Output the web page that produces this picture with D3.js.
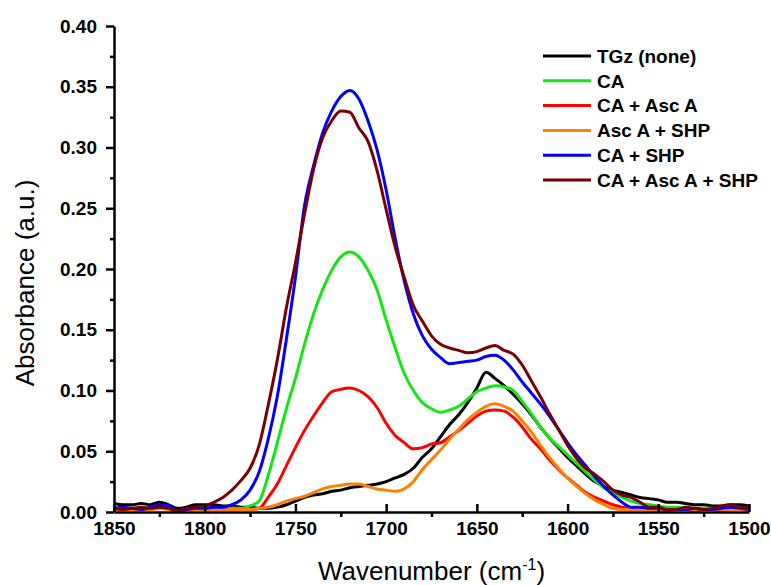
<!DOCTYPE html>
<html>
<head>
<meta charset="utf-8">
<script src="https://cdn.jsdelivr.net/npm/d3@7"></script>
<style>
  body { margin: 0; background: #fff; }
  svg { display: block; }
  .tick text { font-family: "Liberation Sans", Arial, sans-serif; font-weight: bold; font-size: 19px; fill: #000; }
</style>
</head>
<body>
<svg id="chart" width="771" height="585"></svg>
<script>
// ---- data ----
const wavenumbers = d3.range(1850, 1499, -5);

const tgz = [0.007,0.006,0.006,0.007,0.006,0.008,0.006,0.003,0.004,0.006,0.006,0.006,0.005,0.005,0.004,0.004,0.003,0.003,0.004,0.006,0.009,0.012,0.014,0.015,0.017,0.018,0.020,0.021,0.022,0.023,0.025,0.028,0.031,0.036,0.045,0.052,0.062,0.072,0.080,0.090,0.102,0.115,0.110,0.104,0.097,0.089,0.080,0.070,0.061,0.053,0.045,0.038,0.031,0.025,0.021,0.018,0.016,0.014,0.012,0.011,0.010,0.008,0.008,0.007,0.006,0.006,0.005,0.005,0.006,0.006,0.005];

const ca = [0.003,0.002,0.003,0.003,0.004,0.005,0.003,0.001,0.002,0.003,0.003,0.003,0.003,0.003,0.003,0.005,0.009,0.030,0.057,0.085,0.110,0.138,0.163,0.183,0.199,0.210,0.214,0.210,0.199,0.183,0.158,0.135,0.114,0.100,0.090,0.085,0.082,0.084,0.087,0.093,0.099,0.102,0.104,0.103,0.100,0.091,0.081,0.070,0.061,0.054,0.047,0.040,0.033,0.026,0.020,0.016,0.012,0.009,0.007,0.006,0.005,0.004,0.004,0.003,0.003,0.003,0.003,0.002,0.003,0.002,0.002];

const caAsc = [0.002,0.002,0.003,0.002,0.003,0.004,0.003,0.001,0.002,0.002,0.002,0.002,0.002,0.002,0.002,0.002,0.003,0.012,0.023,0.038,0.053,0.067,0.079,0.090,0.099,0.101,0.102,0.100,0.095,0.086,0.073,0.063,0.057,0.052,0.053,0.056,0.057,0.062,0.067,0.073,0.079,0.083,0.084,0.083,0.078,0.070,0.060,0.052,0.043,0.035,0.028,0.022,0.016,0.012,0.009,0.006,0.004,0.003,0.002,0.002,0.002,0.002,0.002,0.002,0.002,0.002,0.002,0.002,0.002,0.002,0.002];

const ascShp = [0.002,0.002,0.002,0.002,0.002,0.003,0.002,0.001,0.002,0.002,0.002,0.002,0.002,0.002,0.002,0.002,0.003,0.004,0.006,0.009,0.011,0.013,0.016,0.019,0.021,0.022,0.023,0.023,0.021,0.019,0.018,0.017,0.019,0.025,0.035,0.043,0.051,0.060,0.068,0.076,0.082,0.087,0.089,0.087,0.083,0.075,0.066,0.055,0.045,0.036,0.028,0.021,0.015,0.010,0.006,0.003,0.002,0.002,0.002,0.002,0.001,0.001,0.002,0.002,0.001,0.002,0.002,0.001,0.002,0.002,0.001];

const caShp = [0.003,0.004,0.003,0.002,0.004,0.006,0.005,0.001,0.002,0.003,0.003,0.004,0.004,0.006,0.010,0.018,0.033,0.060,0.095,0.142,0.193,0.252,0.285,0.312,0.330,0.342,0.347,0.340,0.322,0.298,0.265,0.225,0.190,0.163,0.145,0.134,0.127,0.122,0.123,0.124,0.125,0.128,0.129,0.125,0.117,0.107,0.098,0.089,0.079,0.068,0.057,0.047,0.038,0.029,0.021,0.014,0.008,0.004,0.004,0.003,0.003,0.002,0.002,0.002,0.003,0.002,0.002,0.003,0.004,0.003,0.002];

const caAscShp = [0.003,0.002,0.003,0.004,0.003,0.004,0.003,0.001,0.003,0.004,0.005,0.008,0.012,0.018,0.026,0.036,0.055,0.088,0.125,0.168,0.205,0.245,0.282,0.308,0.322,0.330,0.329,0.316,0.305,0.281,0.249,0.218,0.193,0.170,0.157,0.145,0.138,0.135,0.133,0.131,0.132,0.135,0.137,0.133,0.130,0.121,0.108,0.095,0.081,0.068,0.055,0.044,0.036,0.031,0.025,0.018,0.014,0.012,0.008,0.004,0.004,0.002,0.002,0.004,0.003,0.002,0.003,0.005,0.006,0.004,0.004];

const seriesNames = ["TGz (none)", "CA", "CA + Asc A", "Asc A + SHP", "CA + SHP", "CA + Asc A + SHP"];
const seriesColors = ["#000000", "#14e614", "#ff0000", "#ff8000", "#0000ff", "#7a0000"];
const seriesValues = [tgz, ca, caAsc, ascShp, caShp, caAscShp];

const xMajorTicks = [1850, 1800, 1750, 1700, 1650, 1600, 1550, 1500];
const xMinorTicks = [1825, 1775, 1725, 1675, 1625, 1575, 1525];
const yMajorTicks = [0, 0.05, 0.10, 0.15, 0.20, 0.25, 0.30, 0.35, 0.40];
const yMinorTicks = [0.025, 0.075, 0.125, 0.175, 0.225, 0.275, 0.325, 0.375];

// ---- layout ----
const svg = d3.select("#chart");
const mLeft = 114, mRight = 749, mTop = 26, mBottom = 512;

const x = d3.scaleLinear().domain([1850, 1500]).range([mLeft, mRight]);
const y = d3.scaleLinear().domain([0, 0.40]).range([mBottom, mTop]);

// lines
const line = d3.line()
  .x((d, i) => x(wavenumbers[i]))
  .y(d => y(d))
  .curve(d3.curveMonotoneX);

const plot = svg.append("g");
seriesValues.forEach((vals, k) => {
  plot.append("path")
    .datum(vals)
    .attr("fill", "none")
    .attr("stroke", seriesColors[k])
    .attr("stroke-width", 3)
    .attr("stroke-linejoin", "round")
    .attr("d", line);
});

// axes
const axStroke = 2.5;
const gxMinor = svg.append("g").attr("transform", `translate(0,${mBottom})`)
  .call(d3.axisBottom(x).tickValues(xMinorTicks).tickSize(5).tickFormat(""));
gxMinor.select(".domain").remove();

const gx = svg.append("g").attr("transform", `translate(0,${mBottom})`)
  .call(d3.axisBottom(x).tickValues(xMajorTicks).tickSizeInner(-8).tickSizeOuter(0).tickPadding(10).tickFormat(d3.format("d")));

const gyMinor = svg.append("g").attr("transform", `translate(${mLeft},0)`)
  .call(d3.axisLeft(y).tickValues(yMinorTicks).tickSize(4).tickFormat(""));
gyMinor.select(".domain").remove();

const gy = svg.append("g").attr("transform", `translate(${mLeft},0)`)
  .call(d3.axisLeft(y).tickValues(yMajorTicks).tickSizeInner(8).tickSizeOuter(0).tickPadding(9).tickFormat(d3.format(".2f")));

svg.selectAll(".domain, .tick line").attr("stroke", "#000").attr("stroke-width", axStroke);

// axis titles
const title = svg.append("text")
  .attr("x", (mLeft + mRight) / 2)
  .attr("y", 580)
  .attr("text-anchor", "middle")
  .style("font-family", "'Liberation Sans', Arial, sans-serif")
  .style("font-size", "26px")
  .attr("fill", "#000");
title.append("tspan").text("Wavenumber (cm");
title.append("tspan").attr("dy", -10).style("font-size", "16px").text("-1");
title.append("tspan").attr("dy", 10).text(")");

svg.append("text")
  .attr("transform", `translate(34,${(mTop + mBottom) / 2 + 14}) rotate(-90)`)
  .attr("text-anchor", "middle")
  .style("font-family", "'Liberation Sans', Arial, sans-serif")
  .style("font-size", "26px")
  .attr("fill", "#000")
  .text("Absorbance (a.u.)");

// legend
const legend = svg.append("g");
const legendY0 = 56, legendDy = 24.8;
seriesNames.forEach((name, k) => {
  const yy = legendY0 + k * legendDy;
  legend.append("line")
    .attr("x1", 543).attr("x2", 591).attr("y1", yy).attr("y2", yy)
    .attr("stroke", seriesColors[k]).attr("stroke-width", 3);
  legend.append("text")
    .attr("x", 597).attr("y", yy).attr("dy", "0.36em")
    .style("font-family", "'Liberation Sans', Arial, sans-serif")
    .style("font-weight", "bold")
    .style("font-size", "19px")
    .attr("fill", "#000")
    .text(name);
});
</script>
</body>
</html>
